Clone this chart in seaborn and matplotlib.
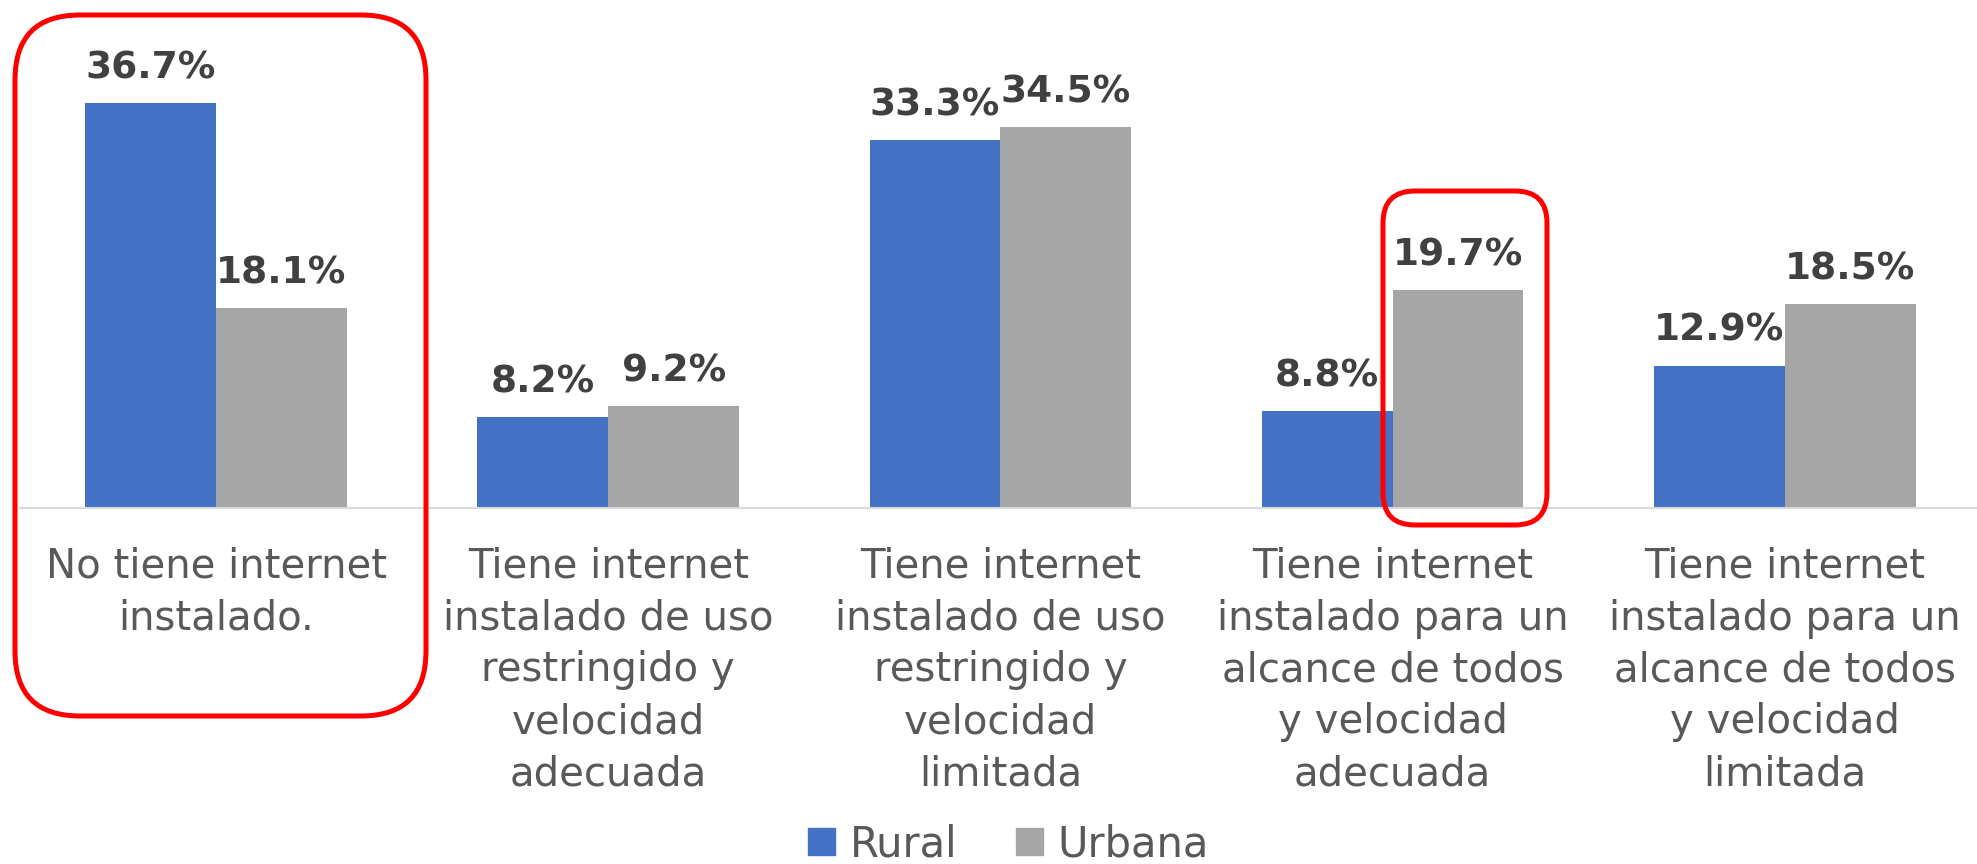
import numpy as np
import pandas as pd
import matplotlib
matplotlib.use('Agg')
import matplotlib.pyplot as plt
from matplotlib.patches import FancyBboxPatch
from matplotlib.transforms import IdentityTransform
import seaborn as sns

# %% Datos
categorias = [
    'No tiene internet\ninstalado.',
    'Tiene internet\ninstalado de uso\nrestringido y\nvelocidad\nadecuada',
    'Tiene internet\ninstalado de uso\nrestringido y\nvelocidad\nlimitada',
    'Tiene internet\ninstalado para un\nalcance de todos\ny velocidad\nadecuada',
    'Tiene internet\ninstalado para un\nalcance de todos\ny velocidad\nlimitada',
]
rural = [36.7, 8.2, 33.3, 8.8, 12.9]
urbana = [18.1, 9.2, 34.5, 19.7, 18.5]
zonas = ['Rural', 'Urbana']
colores = ['#4472C4', '#A5A5A5']

df = pd.DataFrame({
    'categoria': categorias * 2,
    'zona': ['Rural'] * len(categorias) + ['Urbana'] * len(categorias),
    'valor': rural + urbana,
})

# %% Grafico
sns.set_style('white')
plt.rcParams['font.family'] = ['DejaVu Sans']

fig = plt.figure(figsize=(19.77, 8.64), dpi=100)
ax = fig.add_axes([20 / 1977, 1 - 508 / 864, 1 - 20 / 1977, 508 / 864])

sns.barplot(data=df, x='categoria', y='valor', hue='zona', hue_order=zonas,
            palette=colores, width=0.667, saturation=1, linewidth=0,
            ax=ax, legend=False)

ax.set_xlim(-0.5, 4.49)
ax.set_ylim(0, 46)
ax.set_xlabel('')
ax.set_ylabel('')
ax.set_yticks([])
for s in ['top', 'right', 'left']:
    ax.spines[s].set_visible(False)
ax.spines['bottom'].set_color('#d9d9d9')
ax.spines['bottom'].set_linewidth(1.5)
ax.tick_params(axis='x', length=0, pad=28, labelsize=29, labelcolor='#595959')
for t in ax.get_xticklabels():
    t.set_linespacing(1.38)
    t.set_verticalalignment('top')

for cont in ax.containers:
    ax.bar_label(cont, fmt='%.1f%%', padding=12, fontsize=27,
                 fontweight='heavy', color='#404040')

# Leyenda
handles = [plt.Rectangle((0, 0), 1, 1, color=c) for c in colores]
fig.legend(handles, zonas, loc='center', bbox_to_anchor=(0.51, 0.023),
           ncol=2, frameon=False, fontsize=30, handlelength=0.65,
           handleheight=0.65, handletextpad=0.35, columnspacing=1.4,
           labelcolor='#595959')

# Recuadros rojos (en pixeles)
H = 864
for (x0, y0, x1, y1, r) in [(15, 15, 426, 716, 65), (1383, 191, 1547, 525, 32)]:
    caja = FancyBboxPatch((x0, H - y1), x1 - x0, y1 - y0,
                          boxstyle=f'round,pad=0,rounding_size={r}',
                          transform=IdentityTransform(), fill=False,
                          edgecolor='#ff0000', linewidth=3.6, clip_on=False)
    fig.patches.append(caja)

fig.savefig('out.png', dpi=100)
